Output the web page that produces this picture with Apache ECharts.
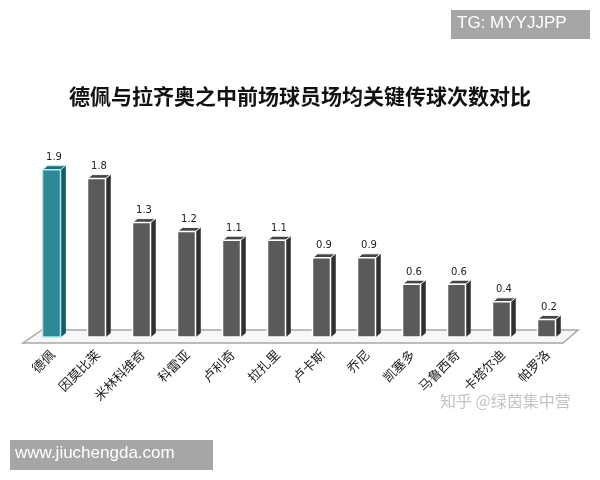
<!DOCTYPE html>
<html>
<head>
<meta charset="utf-8">
<style>html,body{margin:0;padding:0;background:#fff;}#c{width:600px;height:480px;}</style>
<script src="https://cdn.jsdelivr.net/npm/echarts@6/dist/echarts.min.js"></script>
</head>
<body>
<div id="c"></div>
<script>
const titleText = '德佩与拉齐奥之中前场球员场均关键传球次数对比';
const players = ['德佩','因莫比莱','米林科维奇','科雷亚','卢利奇','拉扎里','卢卡斯','乔尼','凯塞多','马鲁西奇','卡塔尔迪','帕罗洛'];
const keyPasses = [1.9,1.8,1.3,1.2,1.1,1.1,0.9,0.9,0.6,0.6,0.4,0.2];
const highlightName = '德佩';

const chart = echarts.init(document.getElementById('c'));
const CJK = '"Noto Sans CJK SC", "Noto Sans", sans-serif';

function barItem(params, api) {
  const idx = api.value(0), v = api.value(1);
  const top = api.coord([idx, v]);
  const base = api.coord([idx, 0]);
  const c = top[0] - 1, hw = 9, dx = 5, dy = 4;
  const hl = players[idx] === highlightName;
  const front = hl ? '#2d8797' : '#5a5a5a';
  const side = hl ? '#1d5863' : '#303030';
  const topc = hl ? '#226a76' : '#444444';
  const edge = hl ? '#a6eef4' : '#ffffff';
  return {
    type: 'group',
    children: [
      { type: 'polygon', shape: { points: [[c + hw, top[1]], [c + hw + dx, top[1] - dy], [c + hw + dx, base[1] - dy], [c + hw, base[1]]] },
        style: { fill: side, stroke: '#222', lineWidth: 0.5 } },
      { type: 'polygon', shape: { points: [[c - hw, top[1]], [c - hw + dx, top[1] - dy], [c + hw + dx, top[1] - dy], [c + hw, top[1]]] },
        style: { fill: topc, stroke: edge, lineWidth: 1 } },
      { type: 'rect', shape: { x: c - hw, y: top[1], width: hw * 2, height: base[1] - top[1] },
        style: { fill: front, stroke: edge, lineWidth: 1.5 } },
      { type: 'text', style: { text: String(v), x: c + dx / 2, y: top[1] - dy - 3, textAlign: 'center', textVerticalAlign: 'bottom',
        fill: '#222', font: '10px "DejaVu Sans", sans-serif' } }
    ]
  };
}

function floorItem(params, api) {
  const cs = params.coordSys;
  const base = api.coord([0, 0])[1];
  const x = cs.x, w = cs.width;
  return {
    type: 'polygon',
    shape: { points: [[x + 12, base - 7], [x + w + 8, base - 7], [x + w - 7, base + 6], [x - 7, base + 6]] },
    style: { fill: '#f7f7f7', stroke: '#a8a8a8', lineWidth: 1.5 }
  };
}

chart.setOption({
  backgroundColor: '#ffffff',
  animation: false,
  title: {
    text: titleText, left: 'center', top: 81,
    textStyle: { fontSize: 21, fontWeight: 'bold', color: '#111', fontFamily: CJK }
  },
  grid: { left: 30, right: 30, top: 161, bottom: 143 },
  xAxis: {
    type: 'category', data: players,
    axisLine: { show: false }, axisTick: { show: false },
    axisLabel: { rotate: 45, margin: 15, interval: 0, fontSize: 13, color: '#222', fontFamily: CJK }
  },
  yAxis: { type: 'value', min: 0, max: 2, show: false, splitLine: { show: false } },
  series: [
    { type: 'custom', renderItem: floorItem, data: [[0, 0]], z: 1, silent: true },
    { type: 'custom', renderItem: barItem, data: keyPasses.map((v, i) => [i, v]), z: 2 }
  ],
  graphic: [
    { type: 'rect', left: 451, top: 10, shape: { width: 139, height: 29 }, style: { fill: '#a6a6a6' } },
    { type: 'text', left: 457, top: 15, style: { text: 'TG: MYYJJPP', fill: '#fff', font: '17px "Liberation Sans", Arial, sans-serif' } },
    { type: 'rect', left: 10, top: 440, shape: { width: 203, height: 30 }, style: { fill: '#a6a6a6' } },
    { type: 'text', left: 15, top: 445, style: { text: 'www.jiuchengda.com', fill: '#fff', font: '17px "Liberation Sans", Arial, sans-serif' } },
    { type: 'text', left: 440, top: 393, style: { text: '知乎 @绿茵集中营', fill: '#c4c4c4', font: '16px "Noto Sans CJK SC", sans-serif' } }
  ]
});
</script>
</body>
</html>
